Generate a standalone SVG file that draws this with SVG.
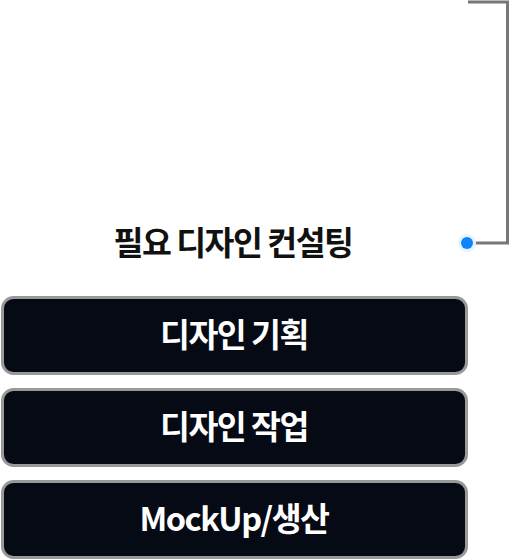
<svg xmlns="http://www.w3.org/2000/svg" width="510" height="560" viewBox="0 0 510 560">
<style>
.box{fill:#050a14;stroke:#999;stroke-width:3}
.bt{fill:#fff;font-family:"Noto Sans CJK KR","Noto Sans",sans-serif;font-weight:700;font-size:32.5px;text-anchor:middle;letter-spacing:-1.5px}
.lbl{fill:#111;font-family:"Noto Sans CJK KR","Noto Sans",sans-serif;font-weight:700;font-size:32.5px;text-anchor:middle;letter-spacing:-1.5px}
.conn{fill:none;stroke:#777;stroke-width:3}
</style>
<rect width="510" height="560" fill="#fff"/>
<g id="connectors">
<path class="conn" d="M469 243 H507.5 V2 H468"/>
</g>
<g id="dot">
<circle cx="467" cy="243" r="9" fill="#e6f4ff"/>
<circle cx="467" cy="243" r="6" fill="#0a84ff"/>
</g>
<g id="label">
<text class="lbl" x="233" y="255">필요 디자인 컨설팅</text>
</g>
<g id="node1">
<rect class="box" x="2.5" y="297.5" width="464" height="76" rx="11"/>
<text class="bt" x="234" y="347">디자인 기획</text>
</g>
<g id="node2">
<rect class="box" x="2.5" y="389.5" width="464" height="76" rx="11"/>
<text class="bt" x="234" y="439">디자인 작업</text>
</g>
<g id="node3">
<rect class="box" x="2.5" y="481.5" width="464" height="76" rx="11"/>
<text class="bt" x="234" y="531">MockUp/생산</text>
</g>
</svg>
